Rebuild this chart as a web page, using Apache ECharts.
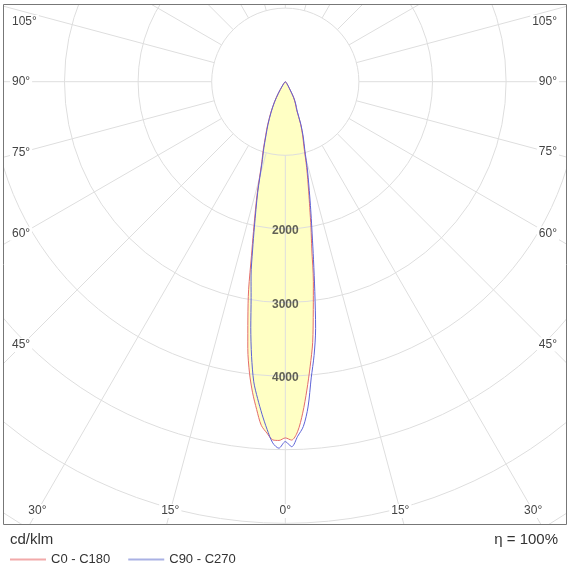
<!DOCTYPE html>
<html>
<head>
<meta charset="utf-8">
<script src="https://cdn.jsdelivr.net/npm/echarts@6/dist/echarts.min.js"></script>
<style>
html, body { margin: 0; padding: 0; background: #fff; }
#chart { width: 570px; height: 570px; }
</style>
</head>
<body>
<div id="chart"></div>
<script>
// 角度 (0 = 正下方), 单位 deg
const angles = [0, 1, 2, 3, 4, 5, 6, 7, 8, 9, 10, 11, 12, 14, 16, 18, 20, 22, 25, 28, 31, 35, 40, 50, 60, 90];
// 光强 cd/klm
const c0   = [4840, 4870, 4760, 4510, 4200, 3880, 3560, 3120, 2740, 2300, 2010, 1740, 1530, 1200, 920, 760, 600, 410, 320, 235, 110, 60, 30, 10, 4, 0];
const c180 = [4840, 4875, 4870, 4780, 4680, 4470, 4250, 3990, 3660, 3250, 2870, 2410, 2080, 1590, 1180, 965, 780, 650, 470, 320, 185, 75, 35, 12, 5, 0];
const c90  = [4890, 4960, 4820, 4690, 4430, 4040, 3740, 3380, 2880, 2450, 2100, 1830, 1600, 1250, 960, 790, 620, 430, 335, 240, 115, 62, 31, 10, 4, 0];
const c270 = [4890, 4980, 4910, 4730, 4530, 4320, 4100, 3760, 3370, 2970, 2680, 2330, 2020, 1550, 1150, 940, 760, 630, 455, 310, 180, 72, 33, 12, 5, 0];
const ringLabels = [2000, 3000, 4000];
const angleTicks = [105, 90, 75, 60, 45, 30, 15, 0];

const CX = 285.3, CY = 81.7;   // 极坐标中心
const PX = 0.0736;             // 每 cd/klm 的像素
const RMAX = 7300;
const FONT = '"Liberation Sans", Arial, sans-serif';
const GRID = '#dedede';

// 右半边 90 -> 0, 左半边 0 -> 90
function curve(right, left) {
    const pts = [];
    for (let i = angles.length - 1; i >= 0; i--) pts.push([right[i], angles[i]]);
    for (let i = 1; i < angles.length; i++) pts.push([left[i], 360 - angles[i]]);
    return pts;
}

// 角度标签: 射线和边框的交点
function tickLabel(deg, side) {
    const a = deg * Math.PI / 180;
    const dx = Math.sin(a), dy = Math.cos(a);
    let y = Infinity;
    if (dx > 1e-6) {
        const t = (side < 0 ? CX - 22 : 548 - CX) / dx;
        y = CY + dy * t;
    }
    if (y > 511) {
        const t = (511 - CY) / dy;
        return { x: CX + side * dx * t, y: 511, align: 'center' };
    }
    return { x: side < 0 ? 10 : 559, y: Math.max(22, y), align: side < 0 ? 'left' : 'right' };
}

const labels = [];
angleTicks.forEach(d => {
    const sides = d === 0 ? [1] : [-1, 1];
    sides.forEach(s => {
        const p = tickLabel(d, s);
        labels.push({
            type: 'text', z: 100,
            style: {
                text: d + '°', x: p.x, y: p.y, align: p.align, verticalAlign: 'middle',
                fill: '#444', font: '12px ' + FONT, backgroundColor: '#fff', padding: [1, 2]
            }
        });
    });
});

const mychart = echarts.init(document.getElementById('chart'));
const hidden = { axisLine: { show: false }, axisTick: { show: false }, axisLabel: { show: false }, splitLine: { show: false } };

const option = {
    animation: false,
    polar: [
        { center: [CX, CY], radius: [1000 * PX, RMAX * PX] },
        { center: [CX, CY], radius: [0, RMAX * PX] }
    ],
    angleAxis: [
        {
            polarIndex: 0, type: 'value', min: 0, max: 360, interval: 15, startAngle: 270, z: 2,
            axisLine: { show: false }, axisTick: { show: false }, axisLabel: { show: false },
            splitLine: { show: true, lineStyle: { color: GRID, width: 1 } }
        },
        Object.assign({ polarIndex: 1, type: 'value', min: 0, max: 360, startAngle: 270, clockwise: false }, hidden)
    ],
    radiusAxis: [
        {
            polarIndex: 0, type: 'value', min: 1000, max: RMAX, interval: 1000, z: 2,
            axisLine: { show: false }, axisTick: { show: false }, axisLabel: { show: false },
            splitLine: { show: true, lineStyle: { color: GRID, width: 1 } }
        },
        Object.assign({ polarIndex: 1, type: 'value', min: 0, max: RMAX }, hidden)
    ],
    legend: {
        left: 5, top: 548, z: 100, icon: 'rect', itemWidth: 36, itemHeight: 2, itemGap: 18,
        textStyle: { fontSize: 13, color: '#333', fontFamily: FONT },
        data: [
            { name: 'C0 - C180', itemStyle: { color: '#f2aaaa' } },
            { name: 'C90 - C270', itemStyle: { color: '#a9b1e4' } }
        ]
    },
    series: [
        {
            name: 'fill', type: 'line', coordinateSystem: 'polar', polarIndex: 1, z: 1,
            data: curve(c0, c180), symbol: 'none', silent: true, smooth: 0.3,
            lineStyle: { width: 0 }, areaStyle: { color: '#ffffc4', opacity: 1 }
        },
        {
            name: 'C0 - C180', type: 'line', coordinateSystem: 'polar', polarIndex: 1, z: 3,
            data: curve(c0, c180), symbol: 'none', smooth: 0.3,
            lineStyle: { color: '#e36b6b', width: 1 }, itemStyle: { color: '#e36b6b' }
        },
        {
            name: 'C90 - C270', type: 'line', coordinateSystem: 'polar', polarIndex: 1, z: 3,
            data: curve(c90, c270), symbol: 'none', smooth: 0.3,
            lineStyle: { color: '#5d62d6', width: 1 }, itemStyle: { color: '#5d62d6' }
        },
        {
            type: 'scatter', coordinateSystem: 'polar', polarIndex: 1, z: 4, silent: true,
            data: ringLabels.map(v => [v, 0]), symbolSize: 1, itemStyle: { color: 'rgba(0,0,0,0)' },
            label: {
                show: true, position: 'inside', offset: [0, 2], formatter: p => p.value[0],
                fontSize: 12, fontWeight: 'bold', color: '#3a3a3a', fontFamily: FONT
            }
        }
    ],
    graphic: [
        // 边框外遮罩
        { type: 'rect', z: 90, shape: { x: 0, y: 0, width: 570, height: 4 }, style: { fill: '#fff' } },
        { type: 'rect', z: 90, shape: { x: 0, y: 0, width: 3, height: 570 }, style: { fill: '#fff' } },
        { type: 'rect', z: 90, shape: { x: 567, y: 0, width: 3, height: 570 }, style: { fill: '#fff' } },
        { type: 'rect', z: 90, shape: { x: 0, y: 525, width: 570, height: 45 }, style: { fill: '#fff' } },
        { type: 'rect', z: 95, shape: { x: 3.5, y: 4.5, width: 563, height: 520 }, style: { fill: 'none', stroke: '#777', lineWidth: 1 } },
        { type: 'text', z: 100, style: { text: 'cd/klm', x: 10, y: 540, verticalAlign: 'middle', fill: '#333', font: '15px ' + FONT } },
        { type: 'text', z: 100, style: { text: 'η = 100%', x: 558, y: 540, align: 'right', verticalAlign: 'middle', fill: '#333', font: '15px ' + FONT } }
    ].concat(labels)
};

mychart.setOption(option);
</script>
</body>
</html>
